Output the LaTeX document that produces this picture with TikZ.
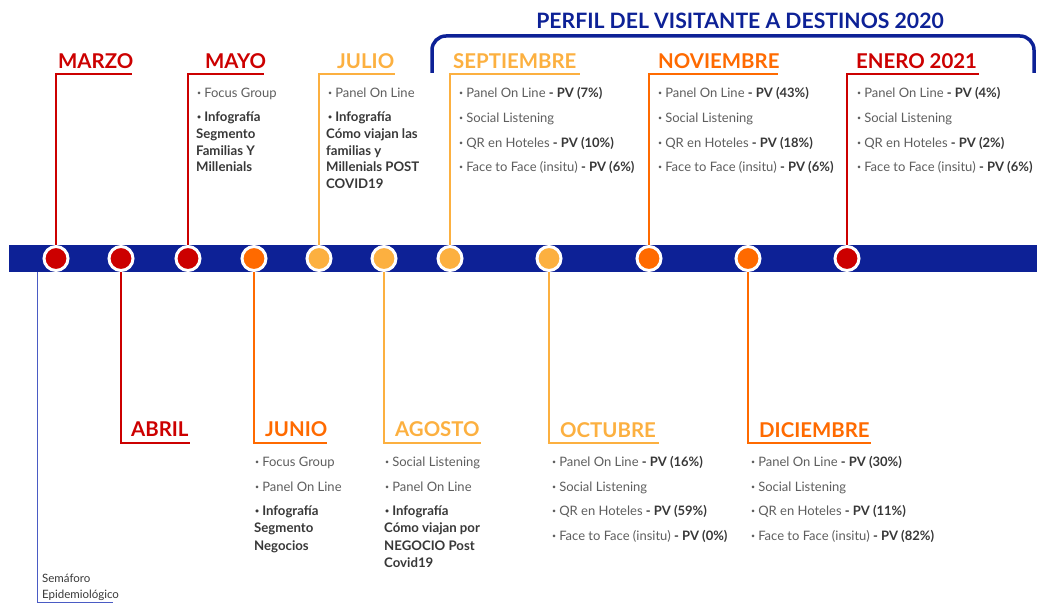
\documentclass[tikz,border=0pt]{standalone}
\usepackage{fontspec}
\setmainfont{Lato}
\definecolor{navy}{HTML}{0D2196}
\definecolor{cred}{HTML}{CC0000}
\definecolor{corange}{HTML}{FF6A00}
\definecolor{clight}{HTML}{FCB040}
\definecolor{itemgray}{HTML}{5E5E5E}
\definecolor{boldgray}{HTML}{383838}
\definecolor{semblue}{HTML}{4A5BC4}
\newcommand{\bul}{{\fontsize{7}{7}\selectfont\raisebox{1.8pt}{•}}\hspace{3pt}}
\begin{document}
\begin{tikzpicture}[x=1pt,y=-1pt,
  month/.style={font=\fontsize{20.4}{20}\selectfont\bfseries, anchor=base west, inner sep=0pt},
  item/.style={font=\fontsize{13}{13}\selectfont, text=itemgray, anchor=base west, inner sep=0pt},
  bitem/.style={font=\fontsize{13.2}{13}\selectfont\bfseries, text=boldgray, anchor=base west, inner sep=0pt},
  dot/.style={circle, minimum size=24pt, inner sep=0pt, draw=white, line width=3pt},
  callout/.style={line width=2pt},
  small/.style={font=\fontsize{11.5}{11.5}\selectfont, text=boldgray, anchor=base west, inner sep=0pt}
]
\useasboundingbox (0,0) rectangle (1037,604);
% title and bracket
\node[font=\fontsize{21.2}{21}\selectfont\bfseries, text=navy, inner sep=0pt, anchor=base] (title) at (740,28.5) {PERFIL DEL VISITANTE A DESTINOS 2020};
\coordinate (bl) at (432,73);
\coordinate (br) at (1034,73);
\draw[navy, line width=3.5pt, rounded corners=14pt] (bl) -- (432,36) -- (1034,36) -- (br);

% timeline bar
\fill[navy] (9,245) rectangle (1037,272);

% Semaforo connector
\coordinate (sem0) at (37,272);
\coordinate (sem1) at (37,602);
\coordinate (sem2) at (113,602);
\draw[semblue, line width=1pt] (sem0) -- (sem1) -- (sem2);

% callout corners (top)
\coordinate (k1) at (56,74);   \coordinate (e1) at (132,74);
\coordinate (k3) at (188,74);  \coordinate (e3) at (264,74);
\coordinate (k5) at (319,74);  \coordinate (e5) at (395,74);
\coordinate (k7) at (450,74);  \coordinate (e7) at (580,74);
\coordinate (k9) at (649,74);  \coordinate (e9) at (778,74);
\coordinate (k11) at (847,74); \coordinate (e11) at (979,74);
% callout corners (bottom)
\coordinate (k2) at (121,443);  \coordinate (e2) at (190,443);
\coordinate (k4) at (254,443);  \coordinate (e4) at (327,443);
\coordinate (k6) at (384,443);  \coordinate (e6) at (481,443);
\coordinate (k8) at (549,443);  \coordinate (e8) at (659,443);
\coordinate (k10) at (748,443); \coordinate (e10) at (871,443);

% dots
\node[dot, fill=cred] (c1) at (56,258.5) {};
\node[dot, fill=cred] (c2) at (121,258.5) {};
\node[dot, fill=cred] (c3) at (188,258.5) {};
\node[dot, fill=corange] (c4) at (254,258.5) {};
\node[dot, fill=clight] (c5) at (319,258.5) {};
\node[dot, fill=clight] (c6) at (384,258.5) {};
\node[dot, fill=clight] (c7) at (450,258.5) {};
\node[dot, fill=clight] (c8) at (549,258.5) {};
\node[dot, fill=corange] (c9) at (649,258.5) {};
\node[dot, fill=corange] (c10) at (748,258.5) {};
\node[dot, fill=cred] (c11) at (847,258.5) {};

% callout lines
\draw[callout, cred] (c1.north) -- (k1) -- (e1);
\draw[callout, cred] (c2.south) -- (k2) -- (e2);
\draw[callout, cred] (c3.north) -- (k3) -- (e3);
\draw[callout, corange] (c4.south) -- (k4) -- (e4);
\draw[callout, clight] (c5.north) -- (k5) -- (e5);
\draw[callout, clight] (c6.south) -- (k6) -- (e6);
\draw[callout, clight] (c7.north) -- (k7) -- (e7);
\draw[callout, clight] (c8.south) -- (k8) -- (e8);
\draw[callout, corange] (c9.north) -- (k9) -- (e9);
\draw[callout, corange] (c10.south) -- (k10) -- (e10);
\draw[callout, cred] (c11.north) -- (k11) -- (e11);

% month labels
\node[month, text=cred] (mmar) at (58,68.5) {MARZO};
\node[month, text=cred] (mmay) at (205,68.5) {MAYO};
\node[month, text=clight] (mjul) at (337,68.5) {JULIO};
\node[month, text=clight] (msep) at (453,68.5) {SEPTIEMBRE};
\node[month, text=corange] (mnov) at (658,68.5) {NOVIEMBRE};
\node[month, text=cred] (mene) at (856,68.5) {ENERO 2021};
\node[month, text=cred] (mabr) at (131,436.5) {ABRIL};
\node[month, text=corange] (mjun) at (265,436.5) {JUNIO};
\node[month, text=clight] (mago) at (395,436.5) {AGOSTO};
\node[month, text=clight] (moct) at (560,437) {OCTUBRE};
\node[month, text=corange] (mdic) at (759,437) {DICIEMBRE};

% MAYO list
\node[item] (may1) at (197,97.5) {\bul Focus Group};
\node[bitem] (may2) at (197,121.5) {\bul Infografía};
\node[bitem] (may3) at (196,138.5) {Segmento};
\node[bitem] (may4) at (196,155.5) {Familias Y};
\node[bitem] (may5) at (196,172) {Millenials};
% JULIO list
\node[item] (jul1) at (328,97.5) {\bul Panel On Line};
\node[bitem] (jul2) at (328,121.5) {\bul Infografía};
\node[bitem] (jul3) at (326,138.5) {Cómo viajan las};
\node[bitem] (jul4) at (326,155.5) {familias y};
\node[bitem] (jul5) at (326,172) {Millenials POST};
\node[bitem] (jul6) at (326,189) {COVID19};
% SEPTIEMBRE list
\node[item] (sep1) at (459,97.5) {\bul Panel On Line \textcolor{boldgray}{\bfseries - PV (7\%)}};
\node[item] (sep2) at (459,122.5) {\bul Social Listening};
\node[item] (sep3) at (459,147.5) {\bul QR en Hoteles \textcolor{boldgray}{\bfseries - PV (10\%)}};
\node[item] (sep4) at (459,171.5) {\bul Face to Face (insitu) \textcolor{boldgray}{\bfseries - PV (6\%)}};
% NOVIEMBRE list
\node[item] (nov1) at (658,97.5) {\bul Panel On Line \textcolor{boldgray}{\bfseries - PV (43\%)}};
\node[item] (nov2) at (658,122.5) {\bul Social Listening};
\node[item] (nov3) at (658,147.5) {\bul QR en Hoteles \textcolor{boldgray}{\bfseries - PV (18\%)}};
\node[item] (nov4) at (658,171.5) {\bul Face to Face (insitu) \textcolor{boldgray}{\bfseries - PV (6\%)}};
% ENERO list
\node[item] (ene1) at (857,97.5) {\bul Panel On Line \textcolor{boldgray}{\bfseries - PV (4\%)}};
\node[item] (ene2) at (857,122.5) {\bul Social Listening};
\node[item] (ene3) at (857,147.5) {\bul QR en Hoteles \textcolor{boldgray}{\bfseries - PV (2\%)}};
\node[item] (ene4) at (857,171.5) {\bul Face to Face (insitu) \textcolor{boldgray}{\bfseries - PV (6\%)}};
% JUNIO list
\node[item] (jun1) at (255,466.5) {\bul Focus Group};
\node[item] (jun2) at (255,491.5) {\bul Panel On Line};
\node[bitem] (jun3) at (255,515.5) {\bul Infografía};
\node[bitem] (jun4) at (254,532.5) {Segmento};
\node[bitem] (jun5) at (254,550) {Negocios};
% AGOSTO list
\node[item] (ago1) at (385,466.5) {\bul Social Listening};
\node[item] (ago2) at (385,491.5) {\bul Panel On Line};
\node[bitem] (ago3) at (385,515.5) {\bul Infografía};
\node[bitem] (ago4) at (384,532.5) {Cómo viajan por};
\node[bitem] (ago5) at (384,550) {NEGOCIO Post};
\node[bitem] (ago6) at (384,567.5) {Covid19};
% OCTUBRE list
\node[item] (oct1) at (552,466.5) {\bul Panel On Line \textcolor{boldgray}{\bfseries - PV (16\%)}};
\node[item] (oct2) at (552,491.5) {\bul Social Listening};
\node[item] (oct3) at (552,515.5) {\bul QR en Hoteles \textcolor{boldgray}{\bfseries - PV (59\%)}};
\node[item] (oct4) at (552,540.5) {\bul Face to Face (insitu) \textcolor{boldgray}{\bfseries - PV (0\%)}};
% DICIEMBRE list
\node[item] (dic1) at (751,466.5) {\bul Panel On Line \textcolor{boldgray}{\bfseries - PV (30\%)}};
\node[item] (dic2) at (751,491.5) {\bul Social Listening};
\node[item] (dic3) at (751,515.5) {\bul QR en Hoteles \textcolor{boldgray}{\bfseries - PV (11\%)}};
\node[item] (dic4) at (751,540.5) {\bul Face to Face (insitu) \textcolor{boldgray}{\bfseries - PV (82\%)}};

% Semaforo
\node[small] (sem) at (42,582.5) {Semáforo};
\node[small] (epi) at (42,598) {Epidemiológico};
\end{tikzpicture}
\end{document}
